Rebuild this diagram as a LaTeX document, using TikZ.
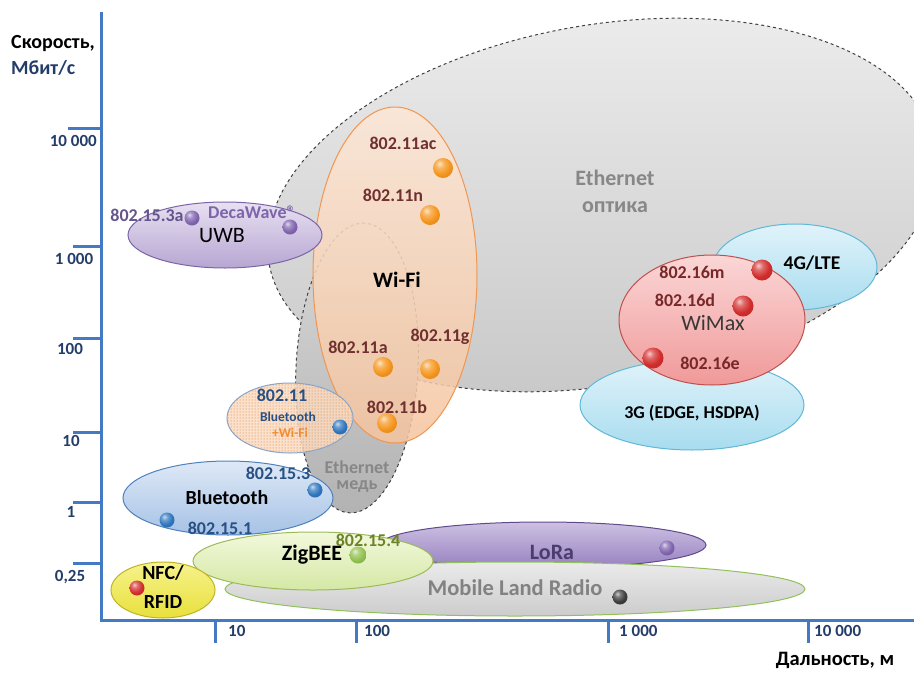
\documentclass[tikz,border=0pt]{standalone}
\usepackage{fontspec}
\setmainfont{Carlito}
\usetikzlibrary{shapes.geometric,patterns}
\definecolor{axisblue}{RGB}{68,122,196}
\definecolor{ticktxt}{RGB}{35,60,105}
\definecolor{wifitxt}{RGB}{112,48,48}
\definecolor{uwbtxt}{RGB}{100,85,140}
\definecolor{decatxt}{RGB}{125,100,170}
\definecolor{bttxt}{RGB}{40,80,130}
\definecolor{ethtxt}{RGB}{135,135,135}
\definecolor{zigtxt}{RGB}{110,130,40}
\definecolor{loratxt}{RGB}{75,60,110}
\definecolor{wmtxt}{RGB}{120,40,40}
\definecolor{wifiorange}{RGB}{240,150,80}
\definecolor{balloran}{RGB}{245,150,30}
\definecolor{ballpurp}{RGB}{128,100,175}
\definecolor{ballblue}{RGB}{46,117,190}
\definecolor{ballgreen}{RGB}{146,192,80}
\definecolor{ballred}{RGB}{210,45,45}
\definecolor{balldark}{RGB}{60,60,60}
\colorlet{ballcol}{balloran}
\pgfdeclareradialshading[ballcol]{myball}{\pgfqpoint{-9bp}{11bp}}{%
  color(0bp)=(ballcol!25!white); color(10bp)=(ballcol!70!white);
  color(24bp)=(ballcol); color(42bp)=(ballcol!85!black);
  color(60bp)=(ballcol!65!black); color(100bp)=(ballcol!65!black)}
\tikzset{
  axisln/.style={axisblue, line width=3pt},
  ell/.style={ellipse, inner sep=0pt, line width=1pt},
  lbl/.style={font=\bfseries\fontsize{18}{18}\selectfont, inner sep=0pt},
  ticklbl/.style={lbl, font=\bfseries\fontsize{17}{17}\selectfont, text=ticktxt},
  ballpt/.style={circle, inner sep=0pt, minimum size=#1, shading=myball},
}
\begin{document}
\begin{tikzpicture}[x=1pt,y=-1pt]
\useasboundingbox (0,0) rectangle (914,673);
\clip (0,0) rectangle (914,673);

% ---- background ellipses
\node[ell, draw=black!75, dashed, top color=black!7, bottom color=black!22,
      minimum width=676, minimum height=360, rotate=10] (optika) at (602,205) {};
\node[ell, draw=black!75, dashed, top color=black!15, bottom color=black!30,
      minimum width=122, minimum height=290, rotate=-3] (med) at (357,368) {};
\node[ell, draw=wifiorange, top color={rgb,255:red,253;green,231;blue,214}, bottom color={rgb,255:red,245;green,196;blue,158},
      fill opacity=0.85, minimum width=164, minimum height=336] (wifi) at (395,275) {};
\node[ell, draw={rgb,255:red,123;green,100;blue,168}, top color={rgb,255:red,232;green,224;blue,242}, bottom color={rgb,255:red,182;green,166;blue,210},
      minimum width=194, minimum height=66] (uwb) at (225,235) {};
\node[ell, draw={rgb,255:red,138;green,166;blue,204}, fill={rgb,255:red,250;green,218;blue,194}, fill opacity=0.85,
      postaction={pattern=dots, pattern color=orange!80!black},
      minimum width=126, minimum height=70] (btwifi) at (290,418) {};
\node[ell, draw={rgb,255:red,79;green,129;blue,189}, top color={rgb,255:red,222;green,233;blue,246}, bottom color={rgb,255:red,166;green,194;blue,230},
      minimum width=210, minimum height=74] (bt) at (228,498) {};
\node[ell, draw={rgb,255:red,95;green,74;blue,139}, top color={rgb,255:red,205;green,193;blue,226}, bottom color={rgb,255:red,150;green,128;blue,192},
      minimum width=326, minimum height=46] (lora) at (543,545) {};
\node[ell, draw={rgb,255:red,146;green,192;blue,90}, top color=black!8, bottom color=black!20,
      minimum width=580, minimum height=54] (mlr) at (515,589) {};
\node[ell, draw={rgb,255:red,155;green,187;blue,89}, top color={rgb,255:red,242;green,248;blue,220}, bottom color={rgb,255:red,213;green,232;blue,165},
      minimum width=240, minimum height=58] (zig) at (313,561) {};
\node[ell, draw={rgb,255:red,190;green,180;blue,40}, top color={rgb,255:red,246;green,242;blue,140}, bottom color={rgb,255:red,232;green,224;blue,60},
      minimum width=104, minimum height=56] (nfc) at (163,590) {};
\node[ell, draw={rgb,255:red,96;green,184;blue,216}, top color={rgb,255:red,224;green,243;blue,250}, bottom color={rgb,255:red,168;green,220;blue,239},
      minimum width=224, minimum height=90] (g3) at (692,405) {};
\node[ell, draw={rgb,255:red,96;green,184;blue,216}, top color={rgb,255:red,224;green,243;blue,250}, bottom color={rgb,255:red,168;green,220;blue,239},
      minimum width=164, minimum height=86] (g4) at (795,267) {};
\node[ell, draw={rgb,255:red,192;green,80;blue,77}, top color={rgb,255:red,251;green,214;blue,214}, bottom color={rgb,255:red,240;green,153;blue,153},
      minimum width=186, minimum height=130] (wimax) at (712,320) {};

% ---- axes
\coordinate (yTop) at (101,12);
\coordinate (yBot) at (101,621.5);
\coordinate (xLeft) at (99.5,620);
\coordinate (xRight) at (914,620);
\draw[axisln] (yTop) -- (yBot);
\draw[axisln] (xLeft) -- (xRight);
\foreach \yy/\xa in {128/68, 246/73, 338/73, 432/73, 502/73, 563/73}
  \draw[axisln] (\xa,\yy) -- (100,\yy);
\foreach \xx in {215, 356, 608, 808}
  \draw[axisln] (\xx,621) -- (\xx,643);

\node[ticklbl, anchor=east] (t10000) at (97,141) {10 000};
\node[ticklbl] (t1000) at (74,259) {1 000};
\node[ticklbl] (t100) at (70,349) {100};
\node[ticklbl] (t10) at (71,441) {10};
\node[ticklbl] (t1) at (71,512) {1};
\node[ticklbl] (t025) at (70,577) {0,25};
\node[ticklbl, anchor=west] (d10) at (228,631) {10};
\node[ticklbl, anchor=west] (d100) at (364,631) {100};
\node[ticklbl, anchor=west] (d1000) at (619,631) {1 000};
\node[ticklbl, anchor=west] (d10000) at (814,631) {10 000};
\node[lbl, font=\bfseries\fontsize{20}{20}\selectfont, anchor=west] (speed) at (11,44) {Скорость,};
\node[lbl, font=\bfseries\fontsize{20}{20}\selectfont, anchor=west, text=ticktxt] (unit) at (11,68) {Мбит/с};
\node[lbl, font=\bfseries\fontsize{20.5}{20.5}\selectfont] (range) at (835,660) {Дальность, м};

% ---- Ethernet
\node[lbl, font=\bfseries\fontsize{22}{22}\selectfont, text=ethtxt] (eo1) at (615,178) {Ethernet};
\node[lbl, font=\bfseries\fontsize{22}{22}\selectfont, text=ethtxt] (eo2) at (615,207) {оптика};
\node[lbl, text=ethtxt] (em1) at (357,467) {Ethernet};
\node[lbl, text=ethtxt] (em2) at (357,487) {медь};

% ---- Wi-Fi
\colorlet{ballcol}{balloran}
\node[lbl, text=wifitxt] (w_ac) at (403,143) {802.11ac};
\node[ballpt=20] (p_ac) at (443,168) {};
\node[lbl, text=wifitxt] (w_n) at (393,195) {802.11n};
\node[ballpt=20] (p_n) at (430,215) {};
\node[lbl, font=\bfseries\fontsize{22}{22}\selectfont] (wifit) at (397,280) {Wi-Fi};
\node[lbl, text=wifitxt] (w_a) at (358,347) {802.11a};
\node[ballpt=20] (p_a) at (383,367) {};
\node[lbl, text=wifitxt] (w_g) at (440,337) {802.11g};
\node[ballpt=20] (p_g) at (430,369) {};
\node[lbl, text=wifitxt] (w_b) at (397,407) {802.11b};
\node[ballpt=20] (p_b) at (387,423) {};

% ---- UWB
\colorlet{ballcol}{ballpurp}
\node[lbl, text=uwbtxt] (u1) at (147,215) {802.15.3a};
\node[ballpt=15] (pu1) at (192,218) {};
\node[lbl, text=decatxt] (u2) at (252,212) {DecaWave®};
\node[ballpt=15] (pu2) at (290,227) {};
\node[lbl, font=\fontsize{22}{22}\selectfont] (uwbt) at (222,236) {UWB};

% ---- Bluetooth + Wi-Fi
\colorlet{ballcol}{ballblue}
\node[lbl, text=bttxt] (bw1) at (282,395) {802.11};
\node[lbl, font=\bfseries\fontsize{13.5}{13.5}\selectfont, text=bttxt] (bw2) at (288,417) {Bluetooth};
\node[lbl, font=\bfseries\fontsize{13.5}{13.5}\selectfont, text={rgb,255:red,240;green,140;blue,50}] (bw3) at (290,433) {+Wi-Fi};
\node[ballpt=15] (pbw) at (340,427) {};

% ---- Bluetooth
\node[lbl, font=\bfseries\fontsize{20}{20}\selectfont] (btt) at (227,498) {Bluetooth};
\node[lbl, text=bttxt] (b3) at (278,473) {802.15.3};
\node[ballpt=15] (pb3) at (315,490) {};
\node[lbl, text=bttxt] (b1) at (220,528) {802.15.1};
\node[ballpt=15] (pb1) at (167,520) {};

% ---- ZigBEE, LoRa, MLR, NFC
\colorlet{ballcol}{ballgreen}
\node[lbl, font=\bfseries\fontsize{22}{22}\selectfont] (zigt) at (312,555) {ZigBEE};
\node[lbl, text=zigtxt] (z4) at (368,540) {802.15.4};
\node[ballpt=17] (pz) at (358,555) {};
\colorlet{ballcol}{ballpurp}
\node[lbl, font=\bfseries\fontsize{22}{22}\selectfont, text=loratxt] (lorat) at (552,552) {LoRa};
\node[ballpt=15] (pl) at (667,548) {};
\colorlet{ballcol}{balldark}
\node[lbl, font=\bfseries\fontsize{22.5}{22.5}\selectfont, text={rgb,255:red,130;green,130;blue,130}] (mlrt) at (515,588) {Mobile Land Radio};
\node[ballpt=15] (pm) at (620,597) {};
\colorlet{ballcol}{ballred}
\node[lbl, font=\bfseries\fontsize{20}{20}\selectfont] (nfc1) at (163,573) {NFC/};
\node[lbl, font=\bfseries\fontsize{20}{20}\selectfont] (nfc2) at (163,602) {RFID};
\node[ballpt=15] (pn) at (137,588) {};

% ---- cellular
\node[lbl] (g3t) at (692,413) {3G (EDGE, HSDPA)};
\node[lbl, font=\bfseries\fontsize{19.5}{19.5}\selectfont] (g4t) at (812,263) {4G/LTE};
\node[lbl, font=\fontsize{22}{22}\selectfont, text=black!78] (wmt) at (713,323) {WiMax};
\node[lbl, text=wmtxt] (m16m) at (692,272) {802.16m};
\node[ballpt=21] (pm16m) at (762,270) {};
\node[lbl, text=wmtxt] (m16d) at (685,300) {802.16d};
\node[ballpt=21] (pm16d) at (743,306) {};
\node[lbl, text=wmtxt] (m16e) at (710,363) {802.16e};
\node[ballpt=21] (pm16e) at (653,358) {};
\end{tikzpicture}
\end{document}
